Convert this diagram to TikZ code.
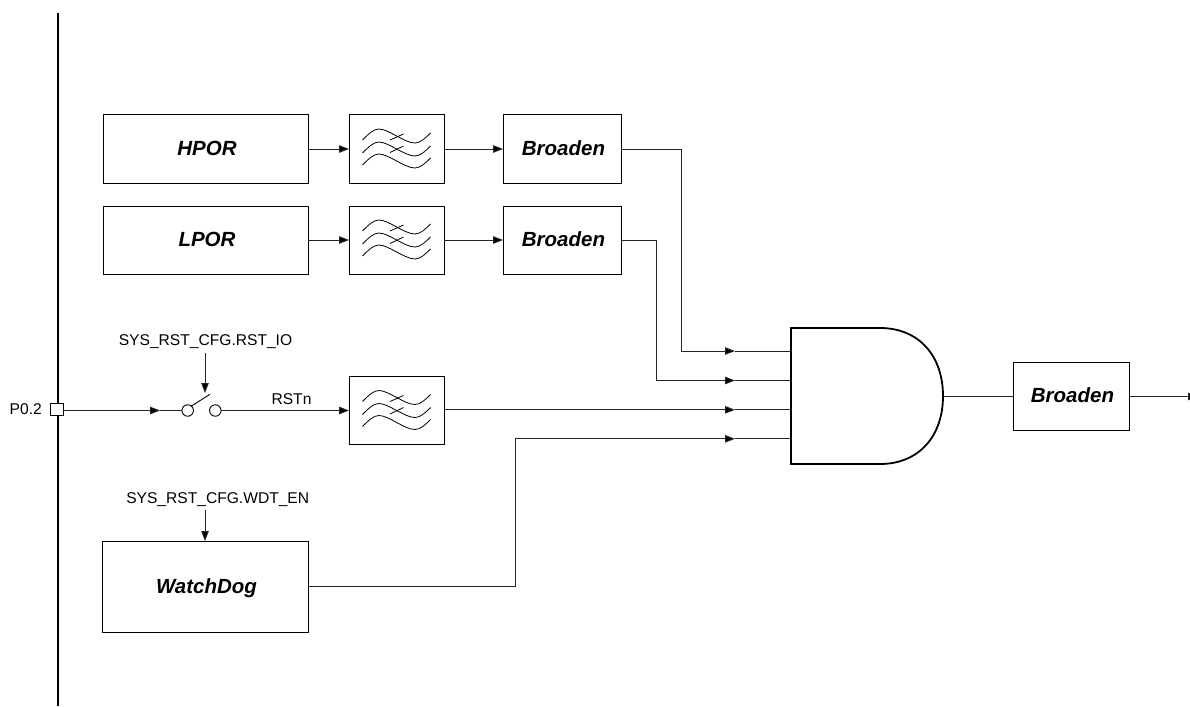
\documentclass[tikz,border=0pt]{standalone}
\usepackage{fontspec}
\setmainfont{Liberation Sans}
\usetikzlibrary{arrows.meta,calc}
\tikzset{
  x=1pt,y=-1pt,
  wire/.style={line width=0.9pt,draw=black!85},
  flow/.style={wire,-{Triangle[length=10pt,width=7.5pt,fill=black]}},
  block/.style={draw=black,line width=1pt,fill=white,inner sep=0pt,outer sep=0pt,text height=15pt,text depth=2.6pt,execute at begin node={\hspace*{3pt}},font=\fontsize{20.5}{24}\selectfont\bfseries\itshape},
  lbl/.style={inner sep=0pt,anchor=base,font=\fontsize{15.6}{18}\selectfont},
  filtersym/.pic={
    \node[block,minimum width=95pt,minimum height=68pt] (-box) at (0,0) {};
    \foreach \d in {0,13,25}{
      \draw[line width=0.8pt,shift={(0,\d)}] (-34,-9) .. controls (-28,-15) and (-23,-20) .. (-17.5,-20)
        .. controls (-8,-20) and (8,-6) .. (18.5,-6) .. controls (24,-6) and (29,-11) .. (34,-16);
    }
    \draw[line width=0.8pt] (-6.5,-9) -- (7,-15);
    \draw[line width=0.8pt] (-6.5,3.5) -- (7,-3);
  }
}
\begin{document}
\begin{tikzpicture}
\useasboundingbox[fill=white] (0,0) rectangle (1190,706);
% rail
\coordinate (railtop) at (58,13);
\coordinate (railbot) at (58,706);
\draw[line width=2pt] (railtop) -- (railbot);
% blocks
\node[block,minimum width=205pt,minimum height=68pt] (hpor) at (205.5,149) {HPOR};
\node[block,minimum width=205pt,minimum height=68pt] (lpor) at (205.5,240) {LPOR};
\node[block,minimum width=118pt,minimum height=68pt] (br1) at (562,149) {Broaden};
\node[block,minimum width=118pt,minimum height=68pt] (br2) at (562,240) {Broaden};
\node[block,minimum width=206pt,minimum height=91pt,text depth=0.5pt] (wd) at (205,586.5) {WatchDog};
\node[block,minimum width=116pt,minimum height=67.5pt] (br3) at (1071,396.5) {Broaden};
\pic (f1) at (396.5,149) {filtersym};
\pic (f2) at (396.5,240) {filtersym};
\pic (f3) at (396.5,410.5) {filtersym};
% gate
\node[inner sep=0pt,outer sep=0pt,minimum width=152pt,minimum height=136pt] (gate) at (867,396) {};
\draw[line width=1.8pt,fill=white] (gate.north west) -- (880,328) .. controls (919,328) and (943,356) .. (gate.east)
  .. controls (943,436) and (919,464) .. (880,464) -- (gate.south west) -- cycle;
% port and switch
\node[draw=black,line width=0.9pt,fill=white,minimum size=12.5pt,inner sep=0pt,outer sep=0pt] (port) at (57,409.5) {};
\node[lbl,anchor=base east] (plabel) at (42,414) {P0.2};
\node[draw=black,line width=0.9pt,circle,minimum size=11.5pt,inner sep=0pt,outer sep=0pt] (sw1) at (187.7,410.5) {};
\node[draw=black,line width=0.9pt,circle,minimum size=11.5pt,inner sep=0pt,outer sep=0pt] (sw2) at (215.3,410.5) {};
\coordinate (levertip) at (210,394.3);
\coordinate (leverin) at (205,393);
\draw[line width=0.9pt] (sw1.north east) ++(-1,0) -- (levertip);
\node[lbl] (cfgio) at (205.5,345) {SYS\_RST\_CFG.RST\_IO};
\node[lbl] (cfgwd) at (217.7,503) {SYS\_RST\_CFG.WDT\_EN};
\node[lbl] (rstn) at (291.5,404) {RSTn};
% connectors
\draw[flow] (hpor) -- (f1-box);
\draw[flow] (lpor) -- (f2-box);
\draw[flow] (f1-box) -- (br1);
\draw[flow] (f2-box) -- (br2);
\coordinate (sA) at (160,410.5);
\draw[flow] (port.east |- sA) -- (sA);
\draw[wire] (sA) -- (sw1);
\draw[flow] (sw2) -- (f3-box.west |- sw2);
\coordinate (ioTop) at (205,352.7);
\draw[flow] (ioTop) -- (leverin);
\draw[flow] ($(wd.north)+(0,-31)$) -- (wd.north);
% gate inputs
\coordinate (i1) at (735,351);
\coordinate (i2) at (735,380.5);
\coordinate (i3) at (735,409.8);
\coordinate (i4) at (735,438.8);
\draw[flow] (br1) -| (681,351) -- (i1);
\draw[wire] (i1) -- (gate.west |- i1);
\draw[flow] (br2) -| (656,380.5) -- (i2);
\draw[wire] (i2) -- (gate.west |- i2);
\draw[flow] (f3-box.east |- i3) -- (i3);
\draw[wire] (i3) -- (gate.west |- i3);
\draw[flow] (wd) -| (515,438.8) -- (i4);
\draw[wire] (i4) -- (gate.west |- i4);
\draw[wire] (gate.east) -- (br3.west |- gate.east);
\coordinate (out) at (1198,396.5);
\draw[flow] (br3) -- (out);
\end{tikzpicture}
\end{document}
